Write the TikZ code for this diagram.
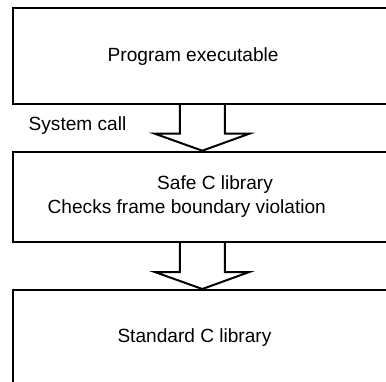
\documentclass[tikz,border=0pt]{standalone}
\usepackage{fontspec}
\setmainfont{Liberation Sans}
\usetikzlibrary{calc}
\begin{document}
\begin{tikzpicture}[x=1pt,y=-1pt,
  layerbox/.style={draw=black, line width=2pt, rectangle, anchor=north west,
    minimum width=400pt, inner sep=0pt},
  lbl/.style={anchor=base west, inner sep=0pt, font=\fontsize{19.1}{23}\selectfont},
  hollow/.style={draw=black, line width=2pt, line join=miter, fill=white}]
\useasboundingbox (0,0) rectangle (386,381);
\clip (0,0) rectangle (386,381);

% layers
\node[layerbox, minimum height=96pt] (prog) at (12.3,7) {};
\node[layerbox, minimum height=90.3pt] (safe) at (12.3,150.7) {};
\node[layerbox, minimum height=120pt] (stdc) at (12.3,289) {};

% labels
\node[lbl] (tprog) at (107.5,61) {Program executable};
\node[lbl] (tcall) at (28.5,130) {System call};
\node[lbl] (tsafe) at (157,189) {Safe C library};
\node[lbl] (tcheck) at (47.5,213.3) {Checks frame boundary violation};
\node[lbl] (tstd) at (117.3,342.7) {Standard C library};

% hollow arrows between layers
\path (prog.south west) ++(190,0) coordinate (t1);
\path (t1 |- safe.north) coordinate (h1);
\draw[hollow] ($(t1)+(-22.5,0)$) -- ($(h1)+(-22.5,-17)$) -- ($(h1)+(-47.5,-17)$)
  -- (h1) -- ($(h1)+(47,-17)$) -- ($(h1)+(22.5,-17)$) -- ($(t1)+(22.5,0)$);

\path (safe.south west) ++(190,0) coordinate (t2);
\path (t2 |- stdc.north) coordinate (h2);
\draw[hollow] ($(t2)+(-22.5,0)$) -- ($(h2)+(-22.5,-17)$) -- ($(h2)+(-47.5,-17)$)
  -- (h2) -- ($(h2)+(47,-17)$) -- ($(h2)+(22.5,-17)$) -- ($(t2)+(22.5,0)$);
\end{tikzpicture}
\end{document}
